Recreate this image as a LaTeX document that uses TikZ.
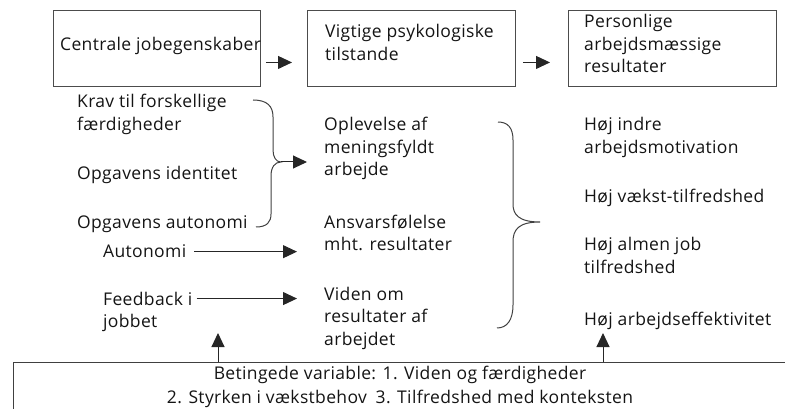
\documentclass[tikz,border=0pt]{standalone}
\usepackage{fontspec}
\setmainfont{Open Sans}[LetterSpace=2]
\usetikzlibrary{arrows.meta,calc}
\newcommand{\stackl}[1]{\begin{tabular}[t]{@{}l@{}}#1\end{tabular}}
\newcommand{\stackc}[1]{\begin{tabular}[t]{@{}c@{}}#1\end{tabular}}
\begin{document}
\begin{tikzpicture}[x=1pt,y=-1pt,
  txt/.style={anchor=base west, inner sep=0pt, text=black!92,
    font=\fontsize{17.5}{22.5}\selectfont},
  headbox/.style={draw=black!70, line width=0.9pt, minimum height=76pt,
    inner sep=0pt, anchor=north west},
  arr/.style={draw=black!85, line width=1pt,
    -{Triangle[length=14pt,width=13pt]}},
  brace/.style={draw=black!75, line width=1pt}
]
\useasboundingbox (0,0) rectangle (785,409);
\clip (0,0) rectangle (785,409);

% header boxes
\node[headbox, minimum width=207pt] (b1) at (53,10) {};
\node[headbox, minimum width=208pt] (b2) at (307,10) {};
\node[headbox, minimum width=208pt] (b3) at (568,10) {};
\node[txt] (t1) at (60,51) {Centrale jobegenskaber};
\node[txt] (t2) at (325,38) {\stackl{Vigtige psykologiske\\tilstande}};
\node[txt] (t3) at (584,28) {\stackl{Personlige\\arbejdsmæssige\\resultater}};

\draw[arr, shorten <=5pt, shorten >=15pt] ([yshift=-14pt]b1.east) -- ([yshift=-14pt]b2.west);
\draw[arr, shorten <=7pt, shorten >=18pt] ([yshift=-14pt]b2.east) -- ([yshift=-14pt]b3.west);

% job characteristics
\node[txt] (krav) at (77,108) {\stackl{Krav til forskellige\\færdigheder}};
\node[txt] (ident) at (77,179) {Opgavens identitet};
\node[txt] (opaut) at (77,228) {Opgavens autonomi};
\node[txt] (auto) at (103,258) {Autonomi};
\node[txt] (fb) at (103,305) {\stackl{Feedback i\\jobbet}};

% psychological states
\node[txt] (mean) at (324,131) {\stackl{Oplevelse af\\meningsfyldt\\arbejde}};
\node[txt] (ansv) at (324,228) {\stackl{Ansvarsfølelse\\mht. resultater}};
\node[txt] (viden) at (324,300) {\stackl{Viden om\\resultater af\\arbejdet}};

% outcomes
\node[txt] (mot) at (584,131) {\stackl{Høj indre\\arbejdsmotivation}};
\node[txt] (vaekst) at (584,203) {Høj vækst-tilfredshed};
\node[txt] (almen) at (584,251) {\stackl{Høj almen job\\tilfredshed}};
\node[txt] (eff) at (584,325) {Høj arbejdseffektivitet};

% brace gathering the first three characteristics
\coordinate (tip1) at (281,162);
\draw[brace] (253,100) .. controls (267,100) and (273,106) .. (273,117)
  -- (273,150) .. controls (273,157) and (276,162) .. (tip1)
  .. controls (275,162) and (271,167) .. (271,176)
  -- (271,214) .. controls (271,222) and (267,227) .. (256,227);
\draw[arr, shorten >=17pt] (tip1) -- (tip1 -| mean.west);

% single arrows
\draw[arr, shorten <=8pt, shorten >=27pt] (auto.east) -- (auto.east -| ansv.west);
\draw[arr, shorten <=4pt, shorten >=27pt] ([yshift=-9.5pt]fb.north east) -- ([yshift=-9.5pt]fb.north east -| viden.west);

% brace gathering the psychological states
\coordinate (tip2) at (540,222);
\draw[brace] (498,122) .. controls (508,122) and (513,128) .. (513,140)
  -- (513,204) .. controls (513,214) and (518,222) .. (tip2)
  .. controls (518,222) and (513,230) .. (513,242)
  -- (513,305) .. controls (513,320) and (507,328) .. (497,328);

% moderators
\node[draw=black!75, line width=0.9pt, minimum width=800pt, minimum height=80pt,
  inner sep=0pt, anchor=north west] (condbox) at (13,362) {};
\node[txt, anchor=base] (cond) at (400,379)
  {\stackc{Betingede variable: 1. Viden og færdigheder\\[1.5pt]2. Styrken i vækstbehov\enspace 3. Tilfredshed med konteksten}};
\coordinate (up1) at (218,333);
\coordinate (up2) at (603,333);
\draw[arr] (up1 |- condbox.north) -- (up1);
\draw[arr] (up2 |- condbox.north) -- (up2);
\end{tikzpicture}
\end{document}
